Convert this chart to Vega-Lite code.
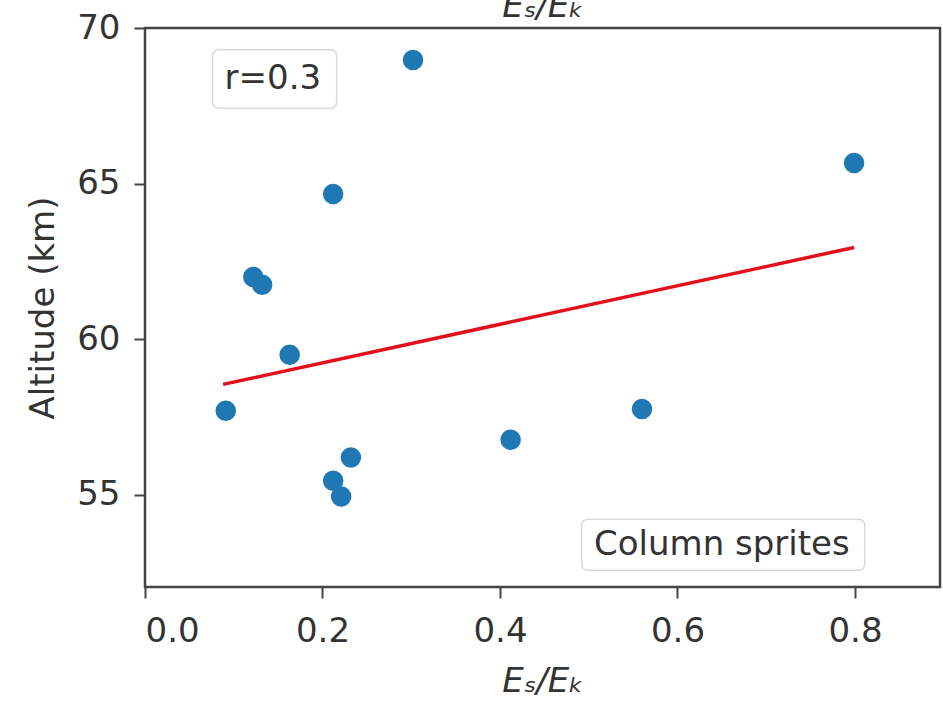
{
  "$schema": "https://vega.github.io/schema/vega-lite/v6.json",
  "width": 795,
  "height": 559,
  "autosize": {"type": "none"},
  "padding": {"left": 145, "top": 28, "right": 3, "bottom": 117},
  "background": "white",
  "datasets": {
    "sprites": [
      {"ratio": 0.091, "altitude": 57.7},
      {"ratio": 0.122, "altitude": 62.0},
      {"ratio": 0.132, "altitude": 61.75},
      {"ratio": 0.163, "altitude": 59.5},
      {"ratio": 0.212, "altitude": 64.67},
      {"ratio": 0.212, "altitude": 55.45},
      {"ratio": 0.221, "altitude": 54.95},
      {"ratio": 0.232, "altitude": 56.2},
      {"ratio": 0.302, "altitude": 68.97},
      {"ratio": 0.412, "altitude": 56.77},
      {"ratio": 0.56, "altitude": 57.76},
      {"ratio": 0.799, "altitude": 65.66}
    ],
    "fit": [
      {"ratio": 0.088, "altitude": 58.55},
      {"ratio": 0.799, "altitude": 62.95}
    ],
    "notes": [
      {"label": "r=0.3", "tx": 0.144, "ty": 68.35, "x0": 0.076, "x1": 0.216, "y0": 69.3, "y1": 67.42},
      {"label": "Column sprites", "tx": 0.65, "ty": 53.4, "x0": 0.492, "x1": 0.811, "y0": 54.22, "y1": 52.58}
    ]
  },
  "resolve": {"axis": {"x": "independent"}},
  "layer": [
    {
      "data": {"name": "sprites"},
      "mark": {"type": "circle", "size": 420, "color": "#1f77b4", "opacity": 1},
      "encoding": {
        "x": {
          "field": "ratio",
          "type": "quantitative",
          "scale": {"domain": [0, 0.8958], "nice": false, "zero": false},
          "axis": {
            "orient": "bottom",
            "title": "Eₛ/Eₖ",
            "values": [0, 0.2, 0.4, 0.6, 0.8],
            "format": ".1f",
            "grid": false,
            "domain": false,
            "tickColor": "#444",
            "tickSize": 11,
            "tickWidth": 2,
            "labelFont": "DejaVu Sans",
            "labelFontSize": 34,
            "labelColor": "#333",
            "labelPadding": 16,
            "titleFont": "DejaVu Sans",
            "titleFontSize": 34,
            "titleFontStyle": "italic",
            "titleFontWeight": "normal",
            "titleColor": "#333",
            "titlePadding": 16
          }
        },
        "y": {
          "field": "altitude",
          "type": "quantitative",
          "scale": {"domain": [52.04, 70], "nice": false, "zero": false},
          "axis": {
            "title": "Altitude (km)",
            "values": [55, 60, 65, 70],
            "grid": false,
            "domain": false,
            "tickColor": "#444",
            "tickSize": 11,
            "tickWidth": 2,
            "labelFont": "DejaVu Sans",
            "labelFontSize": 34,
            "labelColor": "#333",
            "labelPadding": 14,
            "titleFont": "DejaVu Sans",
            "titleFontSize": 34,
            "titleFontWeight": "normal",
            "titleColor": "#333",
            "titlePadding": 16
          }
        }
      }
    },
    {
      "data": {"name": "notes"},
      "mark": {"type": "rect", "fill": "white", "fillOpacity": 0.85, "stroke": "#d9d9d9", "strokeWidth": 1.5, "cornerRadius": 6},
      "encoding": {
        "x": {"field": "x0", "type": "quantitative", "axis": null},
        "x2": {"field": "x1"},
        "y": {"field": "y0", "type": "quantitative"},
        "y2": {"field": "y1"}
      }
    },
    {
      "data": {"name": "notes"},
      "mark": {"type": "text", "font": "DejaVu Sans", "fontSize": 34, "color": "#333", "align": "center", "baseline": "middle"},
      "encoding": {
        "x": {"field": "tx", "type": "quantitative", "axis": null},
        "y": {"field": "ty", "type": "quantitative"},
        "text": {"field": "label"}
      }
    },
    {
      "data": {"name": "fit"},
      "mark": {"type": "line", "color": "#e3101c", "strokeWidth": 3.5},
      "encoding": {
        "x": {
          "field": "ratio",
          "type": "quantitative",
          "axis": {
            "orient": "top",
            "title": "Eₛ/Eₖ",
            "labels": false,
            "ticks": false,
            "domain": false,
            "grid": false,
            "titleFont": "DejaVu Sans",
            "titleFontSize": 34,
            "titleFontStyle": "italic",
            "titleFontWeight": "normal",
            "titleColor": "#333",
            "titleBaseline": "alphabetic",
            "titlePadding": 12
          }
        },
        "y": {"field": "altitude", "type": "quantitative"}
      }
    }
  ],
  "config": {
    "view": {"stroke": "#444", "strokeWidth": 2.5}
  }
}
